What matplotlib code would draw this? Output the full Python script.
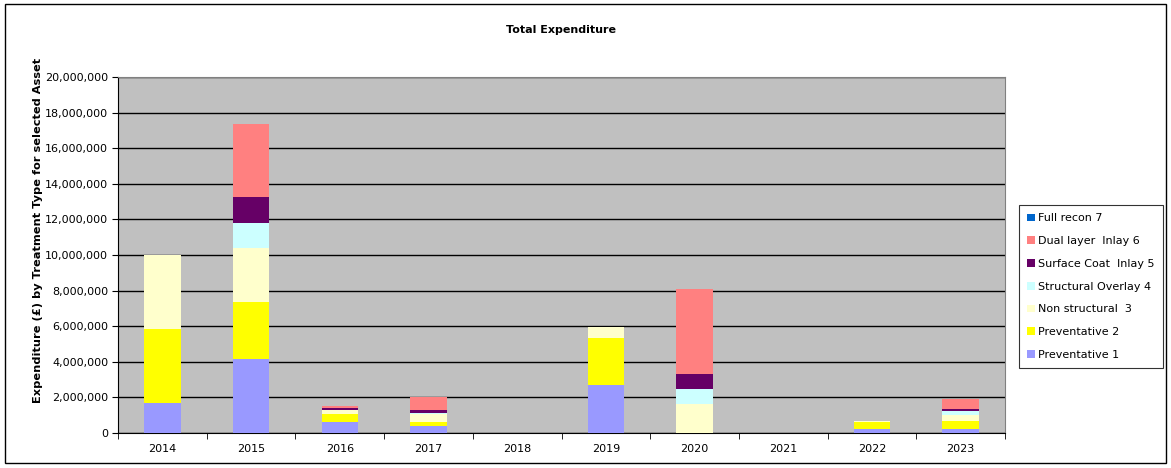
import numpy as np
import matplotlib.pyplot as plt
from matplotlib.patches import Rectangle

years = ['2014', '2015', '2016', '2017', '2018', '2019', '2020', '2021', '2022', '2023']

# values in millions of pounds
preventative_1 = [1.70, 4.16, 0.60, 0.41, 0.0, 2.70, 0.0, 0.0, 0.21, 0.24]
preventative_2 = [4.15, 3.22, 0.47, 0.22, 0.0, 2.62, 0.0, 0.0, 0.39, 0.45]
non_structural_3 = [4.15, 3.00, 0.20, 0.42, 0.0, 0.65, 1.61, 0.0, 0.06, 0.32]
structural_overlay_4 = [0.0, 1.40, 0.05, 0.05, 0.0, 0.0, 0.84, 0.0, 0.0, 0.21]
surface_coat_5 = [0.0, 1.46, 0.07, 0.17, 0.0, 0.0, 0.86, 0.0, 0.0, 0.11]
dual_layer_6 = [0.0, 4.12, 0.15, 0.77, 0.0, 0.0, 4.78, 0.0, 0.0, 0.56]
full_recon_7 = [0.0] * 10

series = [
    ('Preventative 1', preventative_1, '#9999FF'),
    ('Preventative 2', preventative_2, '#FFFF00'),
    ('Non structural  3', non_structural_3, '#FFFFCC'),
    ('Structural Overlay 4', structural_overlay_4, '#CCFFFF'),
    ('Surface Coat  Inlay 5', surface_coat_5, '#660066'),
    ('Dual layer  Inlay 6', dual_layer_6, '#FF8080'),
    ('Full recon 7', full_recon_7, '#0066CC'),
]

W, H = 1171, 468
fig = plt.figure(figsize=(W / 100, H / 100), dpi=100)
fig.patches.append(Rectangle((5 / W, 1 - 463 / H), 1161 / W, 459 / H, transform=fig.transFigure,
                             fill=False, edgecolor='black', linewidth=1.0))

ax = fig.add_axes([118 / W, 1 - 433 / H, (1005 - 118) / W, (433 - 77) / H])
ax.set_facecolor('#C0C0C0')

x = np.arange(len(years))
bottom = np.zeros(len(years))
handles = []
for name, vals, color in series:
    v = np.array(vals) * 1e6
    b = ax.bar(x, v, width=0.41, bottom=bottom, color=color, label=name, zorder=3, linewidth=0)
    handles.append(b)
    bottom += v

ax.set_xlim(-0.5, len(years) - 0.5)
ax.set_ylim(0, 20e6)
ax.set_yticks(np.arange(0, 20e6 + 1, 2e6))
ax.yaxis.set_major_formatter(plt.FuncFormatter(lambda v, p: f'{int(v):,}'))
ax.grid(axis='y', color='black', linewidth=1.0, zorder=1)
ax.set_axisbelow(True)

ax.set_xticks(x)
ax.set_xticklabels(years)
ax.set_xticks(np.arange(-0.5, len(years), 1), minor=True)
ax.tick_params(axis='x', which='major', length=0, labelsize=8, pad=8)
ax.tick_params(axis='x', which='minor', length=4, direction='out')
ax.tick_params(axis='y', length=4, direction='out', labelsize=8, pad=3)

for side in ['top', 'right']:
    ax.spines[side].set_color('#808080')
ax.spines['left'].set_color('black')
ax.spines['bottom'].set_color('black')

ax.set_ylabel('Expenditure (£) by Treatment Type for selected Asset', fontsize=8.2,
              fontweight='bold')
ax.yaxis.set_label_coords(-0.085, 0.57)
fig.text(0.5 * (118 + 1005) / W, 1 - 30 / H, 'Total Expenditure', ha='center', va='center',
         fontsize=8, fontweight='bold')

leg = fig.legend(handles[::-1], [s[0] for s in series][::-1], loc='upper left',
                 bbox_to_anchor=(1019 / W, 1 - 205 / H), fontsize=8, frameon=True,
                 fancybox=False, edgecolor='black', handlelength=0.7, handleheight=0.7,
                 handletextpad=0.3, labelspacing=1.15, borderpad=0.75, borderaxespad=0)
leg.get_frame().set_linewidth(0.8)

fig.savefig('out.png', dpi=100)
